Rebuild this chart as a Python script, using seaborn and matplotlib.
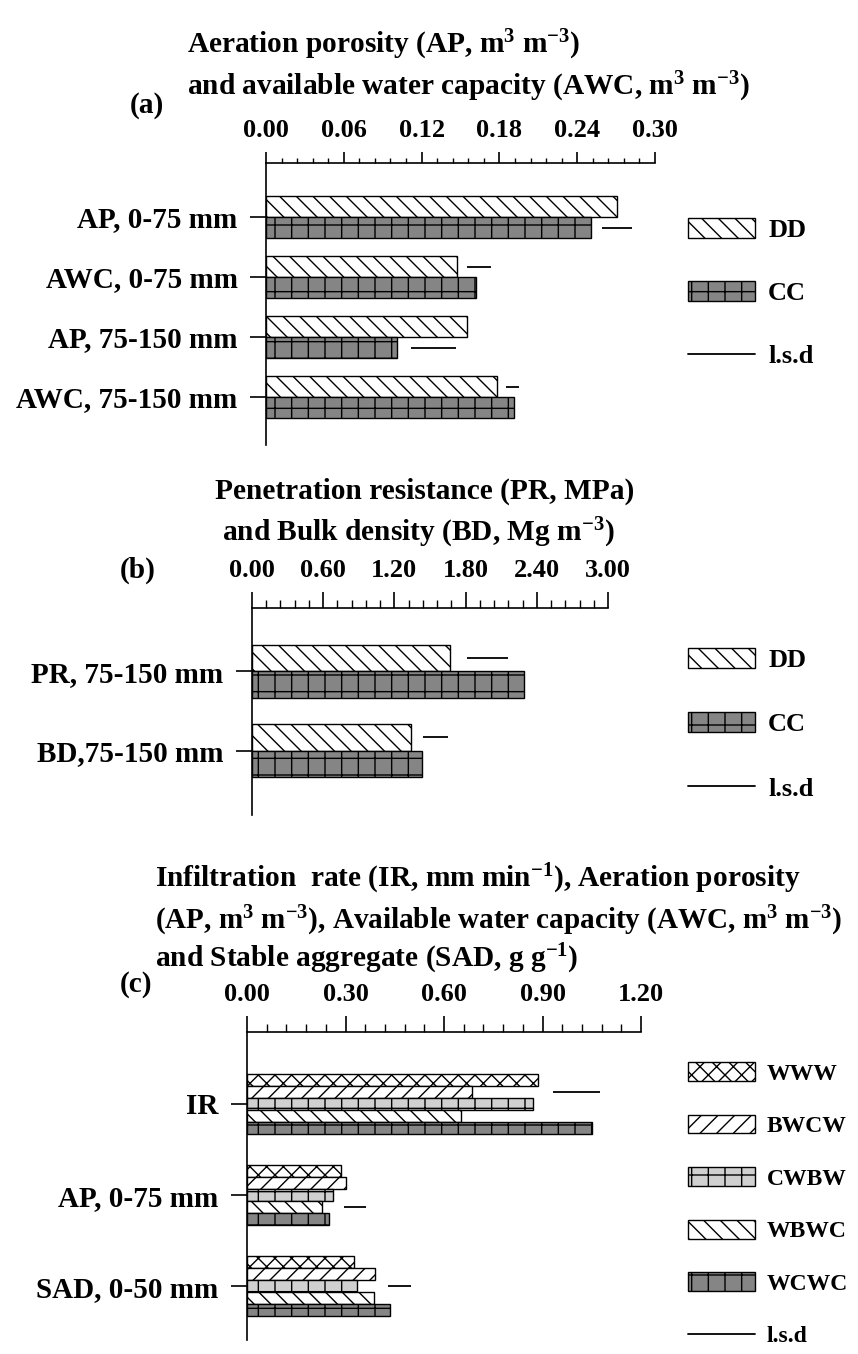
import numpy as np
import pandas as pd
import matplotlib
matplotlib.use("Agg")
import matplotlib.pyplot as plt
import matplotlib.transforms as mtransforms
import seaborn as sns
from matplotlib.patches import Patch
from matplotlib.lines import Line2D
from matplotlib.ticker import MultipleLocator, FormatStrFormatter

# ---------------- data ----------------
# (a) tillage: direct drilling (DD) vs conventional cultivation (CC)
a_props = ["AP, 0-75 mm", "AWC, 0-75 mm", "AP, 75-150 mm", "AWC, 75-150 mm"]
a_dd = [0.271, 0.147, 0.155, 0.178]
a_cc = [0.251, 0.162, 0.101, 0.191]
a_lsd = [0.023, 0.019, 0.035, 0.010]

# (b) penetration resistance and bulk density
b_props = ["PR, 75-150 mm", "BD,75-150 mm"]
b_dd = [1.67, 1.34]
b_cc = [2.29, 1.43]
b_lsd = [0.34, 0.21]

# (c) rotations
c_props = ["IR", "AP, 0-75 mm", "SAD, 0-50 mm"]
c_www = [0.887, 0.285, 0.325]
c_bwcw = [0.684, 0.301, 0.389]
c_cwbw = [0.872, 0.262, 0.336]
c_wbwc = [0.651, 0.227, 0.387]
c_wcwc = [1.050, 0.249, 0.435]
c_lsd = [0.142, 0.068, 0.070]

tillage = ["DD", "CC"]
rotations = ["WWW", "BWCW", "CWBW", "WBWC", "WCWC"]

# ---------------- style ----------------
sns.set_theme(style="ticks", rc={
    "axes.edgecolor": "black", "text.color": "black",
    "xtick.color": "black", "ytick.color": "black",
})
plt.rcParams.update({
    "font.family": ["Liberation Serif", "DejaVu Serif"],
    "font.weight": "bold",
    "mathtext.fontset": "custom",
    "mathtext.rm": "Liberation Serif:bold",
    "mathtext.bf": "Liberation Serif:bold",
    "mathtext.it": "Liberation Serif:bold:italic",
    "mathtext.default": "bf",
    "hatch.color": "black",
    "hatch.linewidth": 1.0,
    "axes.linewidth": 1.2,
})

fills = {"DD": "white", "CC": "#858585",
         "WWW": "white", "BWCW": "white", "CWBW": "#d0d0d0",
         "WBWC": "white", "WCWC": "#858585"}
hatches = {"DD": "\\\\", "CC": "+",
           "WWW": "xx", "BWCW": "//", "CWBW": "+",
           "WBWC": "\\\\", "WCWC": "+"}

W, H = 858, 1354
fig = plt.figure(figsize=(W / 100, H / 100), dpi=100)


def px_axes(left, top, right, bottom):
    return fig.add_axes([left / W, 1 - bottom / H, (right - left) / W, (bottom - top) / H])


def ftext(x, y, s, size, ha="left"):
    fig.text(x / W, 1 - y / H, s, fontsize=size, ha=ha, va="baseline", fontweight="bold")


def draw_panel(ax, props, series, names, width, xmax, major, minor, ylim,
               tick_len, lsd, lsd_anchor, lsd_row, lsd_gap):
    df = pd.DataFrame({
        "prop": [p for _ in names for p in props],
        "treat": [n for n in names for _ in props],
        "value": [v for s in series for v in s],
    })
    sns.barplot(data=df, x="value", y="prop", hue="treat", order=props,
                hue_order=names, orient="h", width=width,
                palette={n: fills[n] for n in names}, saturation=1,
                edgecolor="black", linewidth=1.0, errorbar=None,
                legend=False, ax=ax)
    for cont, n in zip(ax.containers, names):
        for bar in cont:
            bar.set_hatch(hatches[n])
    # least significant difference bars
    for j, (d, anc, row, gap) in enumerate(zip(lsd, lsd_anchor, lsd_row, lsd_gap)):
        abar = ax.containers[names.index(anc)][j]
        rbar = ax.containers[names.index(row)][j]
        x0 = abar.get_width()
        yc = rbar.get_y() + rbar.get_height() / 2
        tr = ax.transData + mtransforms.ScaledTranslation(gap / 100, 0, fig.dpi_scale_trans)
        ax.plot([x0, x0 + d], [yc, yc], color="black", lw=1.3, transform=tr,
                solid_capstyle="butt")

    ax.set_xlim(0, xmax)
    ax.set_ylim(*ylim)
    ax.xaxis.tick_top()
    ax.xaxis.set_major_locator(MultipleLocator(major))
    ax.xaxis.set_minor_locator(MultipleLocator(minor))
    ax.xaxis.set_major_formatter(FormatStrFormatter("%.2f"))
    ax.spines["right"].set_visible(False)
    ax.spines["bottom"].set_visible(False)
    ax.tick_params(axis="x", which="major", direction="out", length=tick_len[0],
                   width=1.2, pad=7, labelsize=19)
    ax.tick_params(axis="x", which="minor", direction="out", length=tick_len[1],
                   width=1.0, top=True, bottom=False)
    ax.tick_params(axis="y", direction="out", length=11.5, width=1.2, pad=9,
                   labelsize=21, left=True)
    ax.set_xlabel("")
    ax.set_ylabel("")


def draw_legend(ax, names, top, fs, spacing, hlen, hhei):
    handles = [Patch(facecolor=fills[n], edgecolor="black", hatch=hatches[n],
                     linewidth=1.0) for n in names]
    handles.append(Line2D([], [], color="black", lw=1.3))
    ax.legend(handles, names + ["l.s.d"], loc="upper left",
              bbox_to_anchor=(688 / W, 1 - top / H), bbox_transform=fig.transFigure,
              frameon=False, fontsize=fs, handlelength=hlen, handleheight=hhei,
              labelspacing=spacing, handletextpad=0.5, borderpad=0, borderaxespad=0)


TS = 21.2  # title size

# ---------------- panel (a) ----------------
ftext(187, 53, r"Aeration porosity (AP, m$^{3}$ m$^{-3}$)", TS)
ftext(187, 95, r"and available water capacity (AWC, m$^{3}$ m$^{-3}$)", TS)
ftext(130, 113, "(a)", TS)
ax_a = px_axes(266, 163, 655, 445)
draw_panel(ax_a, a_props, [a_dd, a_cc], tillage, 0.7, 0.30, 0.06, 0.012,
           (3.8, -0.9), (8, 3.5), a_lsd,
           ["CC", "DD", "CC", "DD"], ["CC", "DD", "CC", "DD"], [11, 10, 14, 9])
draw_legend(ax_a, tillage, 218, 19, 1.49, 2.54, 0.76)

# ---------------- panel (b) ----------------
ftext(215, 499, "Penetration resistance (PR, MPa)", TS)
ftext(222, 541, r"and Bulk density (BD, Mg m$^{-3}$)", TS)
ftext(120, 578, "(b)", TS)
ax_b = px_axes(252, 608, 608, 815)
draw_panel(ax_b, b_props, [b_dd, b_cc], tillage, 0.67, 3.0, 0.60, 0.12,
           (1.81, -0.80), (11.5, 6), b_lsd,
           ["DD", "DD"], ["DD", "DD"], [17, 12])
draw_legend(ax_b, tillage, 648, 19, 1.53, 2.54, 0.76)

# ---------------- panel (c) ----------------
ftext(155, 887, r"Infiltration  rate (IR, mm min$^{-1}$), Aeration porosity", TS)
ftext(155, 929, r"(AP, m$^{3}$ m$^{-3}$), Available water capacity (AWC, m$^{3}$ m$^{-3}$)", 21)
ftext(155, 967, r"and Stable aggregate (SAD, g g$^{-1}$)", TS)
ftext(120, 992, "(c)", TS)
ax_c = px_axes(247, 1032, 641, 1340)
draw_panel(ax_c, c_props, [c_www, c_bwcw, c_cwbw, c_wbwc, c_wcwc], rotations,
           0.66, 1.20, 0.30, 0.06, (2.59, -0.79), (11.5, 6), c_lsd,
           ["WWW", "BWCW", "WCWC"], ["BWCW", "WBWC", "CWBW"], [15, -2, -2])
draw_legend(ax_c, rotations, 1062, 17, 1.27, 2.84, 0.85)

fig.savefig("out.png", dpi=100)
